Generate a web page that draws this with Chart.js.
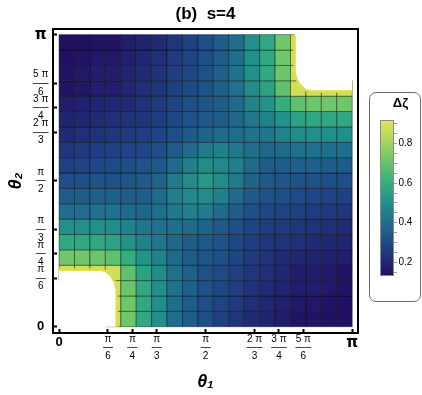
<!DOCTYPE html>
<html>
<head>
<meta charset="utf-8">
<script src="https://cdn.jsdelivr.net/npm/chart.js@4.4.1/dist/chart.umd.min.js"></script>
<style>
  html, body { margin: 0; padding: 0; background: #fff; }
  #wrap { position: relative; width: 422px; height: 395px; }
  #main { position: absolute; left: 0; top: 0; }
  #legendBox { position: absolute; left: 369px; top: 92px; width: 52px; height: 210px;
               box-sizing: border-box; border: 1.5px solid #6b6b6b; border-radius: 7px; }
  #bar { position: absolute; left: 369px; top: 92px; }
</style>
</head>
<body>
<div id="wrap">
  <canvas id="main" width="422" height="395"></canvas>
  <div id="legendBox"></div>
  <canvas id="bar" width="52" height="210"></canvas>
</div>
<script>
// Δζ on a 19 x 19 mesh: one row per θ2 cell (bottom row first), one value per θ1 cell
const cellCount = 19;
const dzRows = [
  [null,null,null,0.88,0.72,0.58,0.50,0.40,0.35,0.31,0.27,0.24,0.21,0.19,0.17,0.15,0.15,0.14,0.14],
  [null,null,null,0.88,0.72,0.58,0.50,0.40,0.35,0.31,0.28,0.25,0.22,0.20,0.18,0.16,0.16,0.15,0.14],
  [null,null,null,0.88,0.71,0.58,0.50,0.41,0.36,0.32,0.29,0.26,0.23,0.21,0.19,0.17,0.17,0.16,0.15],
  [0.88,0.88,0.88,0.88,0.69,0.56,0.49,0.41,0.36,0.32,0.30,0.27,0.24,0.22,0.20,0.17,0.17,0.16,0.15],
  [0.72,0.72,0.71,0.69,0.60,0.51,0.46,0.39,0.35,0.33,0.31,0.28,0.25,0.23,0.21,0.20,0.19,0.18,0.17],
  [0.58,0.58,0.58,0.56,0.51,0.46,0.42,0.38,0.35,0.34,0.32,0.29,0.26,0.24,0.23,0.22,0.21,0.20,0.19],
  [0.50,0.50,0.50,0.49,0.46,0.42,0.41,0.40,0.39,0.37,0.34,0.31,0.28,0.26,0.25,0.24,0.23,0.22,0.21],
  [0.40,0.40,0.41,0.41,0.39,0.38,0.40,0.43,0.45,0.44,0.39,0.35,0.31,0.29,0.28,0.27,0.26,0.25,0.24],
  [0.35,0.35,0.36,0.36,0.35,0.35,0.39,0.45,0.48,0.49,0.45,0.39,0.34,0.32,0.31,0.30,0.29,0.28,0.27],
  [0.31,0.31,0.32,0.32,0.33,0.34,0.37,0.44,0.49,0.53,0.49,0.44,0.37,0.34,0.33,0.32,0.32,0.31,0.31],
  [0.27,0.28,0.29,0.30,0.31,0.32,0.34,0.39,0.45,0.49,0.48,0.45,0.39,0.35,0.35,0.36,0.36,0.35,0.35],
  [0.24,0.25,0.26,0.27,0.28,0.29,0.31,0.35,0.39,0.44,0.45,0.43,0.40,0.38,0.39,0.41,0.41,0.40,0.40],
  [0.21,0.22,0.23,0.24,0.25,0.26,0.28,0.31,0.34,0.37,0.39,0.40,0.41,0.42,0.46,0.49,0.50,0.50,0.50],
  [0.19,0.20,0.21,0.22,0.23,0.24,0.26,0.29,0.32,0.34,0.35,0.38,0.42,0.46,0.51,0.56,0.58,0.58,0.58],
  [0.17,0.18,0.19,0.20,0.21,0.23,0.25,0.28,0.31,0.33,0.35,0.39,0.46,0.51,0.60,0.69,0.71,0.72,0.72],
  [0.15,0.16,0.17,0.17,0.20,0.22,0.24,0.27,0.30,0.32,0.36,0.41,0.49,0.56,0.69,0.88,0.88,0.88,0.88],
  [0.15,0.16,0.17,0.17,0.19,0.21,0.23,0.26,0.29,0.32,0.36,0.41,0.50,0.58,0.71,0.88,null,null,null],
  [0.14,0.15,0.16,0.16,0.18,0.20,0.22,0.25,0.28,0.31,0.35,0.40,0.50,0.58,0.72,0.88,null,null,null],
  [0.14,0.14,0.15,0.15,0.17,0.19,0.21,0.24,0.27,0.31,0.35,0.40,0.50,0.58,0.72,0.88,null,null,null]
];

// edges of the two regions where Δζ is not defined (radians)
const lowCornerX  = [0, 0.45, 0.505, 0.56, 0.60, 0.618, 0.618];
const lowCornerY  = [0.612, 0.612, 0.595, 0.545, 0.475, 0.40, 0];
const highCornerX = [2.524, 2.524, 2.542, 2.582, 2.637, 2.692, 3.1416];
const highCornerY = [3.1416, 2.742, 2.667, 2.597, 2.547, 2.53, 2.53];

// axis ticks, as fractions of π
const tickFractions = [0, 1/6, 1/4, 1/3, 1/2, 2/3, 3/4, 5/6, 1];
const tickLabels = ['0', ['π','—','6'], ['π','—','4'], ['π','—','3'], ['π','—','2'],
                    ['2 π','—–','3'], ['3 π','—–','4'], ['5 π','—–','6'], 'π'];

// colour bar
const cbMin = 0.13, cbMax = 0.92;
const cbTickValues = [0.15,0.2,0.25,0.3,0.35,0.4,0.45,0.5,0.55,0.6,0.65,0.7,0.75,0.8,0.85,0.9];
const cbTickLabels = ['','0.2','','','','0.4','','','','0.6','','','','0.8','',''];

const cmapStops = [
  [0.13, [34, 12, 96]],
  [0.20, [33, 40, 115]],
  [0.30, [30, 75, 135]],
  [0.40, [32, 110, 141]],
  [0.50, [35, 143, 139]],
  [0.60, [52, 174, 126]],
  [0.70, [100, 195, 108]],
  [0.80, [160, 213, 93]],
  [0.92, [232, 228, 88]]
];

function dzColor(v) {
  if (v <= cmapStops[0][0]) return `rgb(${cmapStops[0][1]})`;
  for (let k = 1; k < cmapStops.length; k++) {
    const [v1, c1] = cmapStops[k];
    if (v <= v1) {
      const [v0, c0] = cmapStops[k - 1];
      const t = (v - v0) / (v1 - v0);
      const c = c0.map((a, n) => Math.round(a + (c1[n] - a) * t));
      return `rgb(${c})`;
    }
  }
  return `rgb(${cmapStops[cmapStops.length - 1][1]})`;
}

Chart.defaults.font.family = "'Liberation Sans', Arial, sans-serif";
Chart.defaults.color = '#000';

const cellStep = Math.PI / cellCount;
const cellPoints = [];
dzRows.forEach((row, j) => {
  row.forEach((v, i) => {
    if (v !== null) cellPoints.push({ x: (i + 0.5) * cellStep, y: (j + 0.5) * cellStep, v: v });
  });
});

function cellPx(chart) {
  const xs = chart.scales.x;
  return Math.abs(xs.getPixelForValue(cellStep) - xs.getPixelForValue(0));
}

function tickFont(ctx) {
  const last = tickFractions.length - 1;
  if (ctx.index === 0) return { size: 13, weight: 'bold', lineHeight: 1.2 };
  if (ctx.index === last) return { family: "'DejaVu Sans'", size: 15, weight: 'bold', lineHeight: 1.2 };
  return { size: 10, lineHeight: 0.86 };
}

// black frame round the plot
const frame = {
  id: 'frame',
  afterDatasetsDraw(chart) {
    const { ctx, chartArea: a } = chart;
    ctx.save();
    ctx.strokeStyle = '#000';
    ctx.lineWidth = 2;
    ctx.strokeRect(a.left, a.top, a.right - a.left, a.bottom - a.top);
    ctx.restore();
  }
};

new Chart(document.getElementById('main'), {
  type: 'scatter',
  data: {
    datasets: [
      {
        type: 'line',
        data: lowCornerX.map((x, k) => ({ x: x, y: lowCornerY[k] })),
        order: 0,
        fill: 'origin',
        backgroundColor: '#fff',
        borderColor: '#dcdf4c',
        borderWidth: 2.5,
        pointRadius: 0,
        tension: 0
      },
      {
        type: 'line',
        data: highCornerX.map((x, k) => ({ x: x, y: highCornerY[k] })),
        order: 0,
        fill: 'end',
        backgroundColor: '#fff',
        borderColor: '#dcdf4c',
        borderWidth: 2.5,
        pointRadius: 0,
        tension: 0
      },
      {
        data: cellPoints,
        order: 1,
        pointStyle: 'rect',
        pointRadius: ctx => cellPx(ctx.chart) / Math.SQRT2,
        pointBackgroundColor: ctx => ctx.raw ? dzColor(ctx.raw.v) : '#000',
        pointBorderColor: 'rgba(0,0,0,0.42)',
        pointBorderWidth: 1
      }
    ]
  },
  options: {
    responsive: false,
    animation: false,
    events: [],
    layout: { padding: { left: 4, right: 64, top: 0, bottom: 0 } },
    plugins: {
      legend: { display: false },
      tooltip: { enabled: false },
      title: {
        display: true,
        text: '(b)  s=4',
        fullSize: false,
        font: { size: 17, weight: 'bold', lineHeight: 1.2 },
        padding: { top: 4.6, bottom: 4 }
      }
    },
    scales: {
      x: {
        type: 'linear',
        min: -0.065,
        max: Math.PI + 0.062,
        afterBuildTicks: axis => { axis.ticks = tickFractions.map(f => ({ value: f * Math.PI })); },
        afterFit: axis => { axis.height = 62; },
        border: { display: false },
        grid: { drawOnChartArea: false, drawTicks: true, tickLength: -4, tickColor: '#000', tickWidth: 2 },
        ticks: {
          autoSkip: false, maxRotation: 0, minRotation: 0, padding: 5.5,
          callback: (v, i) => tickLabels[i],
          font: tickFont
        },
        title: {
          display: true,
          text: 'θ₁',
          font: { size: 18, weight: 'bold', style: 'italic', lineHeight: 1.2 },
          padding: { top: 0, bottom: 2 }
        }
      },
      y: {
        type: 'linear',
        min: -0.068,
        max: Math.PI + 0.061,
        afterBuildTicks: axis => { axis.ticks = tickFractions.map(f => ({ value: f * Math.PI })); },
        afterFit: axis => { axis.width = 49; },
        border: { display: false },
        grid: { drawOnChartArea: false, drawTicks: true, tickLength: -4, tickColor: '#000', tickWidth: 2 },
        ticks: {
          autoSkip: false, crossAlign: 'center', padding: 8.5,
          callback: (v, i) => tickLabels[i],
          font: tickFont
        },
        title: {
          display: true,
          text: 'θ₂',
          font: { size: 18, weight: 'bold', style: 'italic', lineHeight: 1.2 },
          padding: { top: 1, bottom: 0 }
        }
      }
    }
  },
  plugins: [frame]
});

// colour bar legend
new Chart(document.getElementById('bar'), {
  type: 'bar',
  data: {
    labels: [''],
    datasets: [{
      data: [[cbMin, cbMax]],
      backgroundColor: ctx => {
        const chart = ctx.chart;
        if (!chart.chartArea) return 'transparent';
        const ys = chart.scales.y;
        const g = chart.ctx.createLinearGradient(0, ys.getPixelForValue(cbMin), 0, ys.getPixelForValue(cbMax));
        cmapStops.forEach(([v, c]) => g.addColorStop((v - cbMin) / (cbMax - cbMin), `rgb(${c})`));
        return g;
      },
      borderColor: '#8c8c8c',
      borderWidth: 1,
      borderSkipped: false,
      inflateAmount: 0,
      barPercentage: 1,
      categoryPercentage: 1
    }]
  },
  options: {
    responsive: false,
    animation: false,
    events: [],
    layout: { padding: { left: 11, right: 0, top: 0, bottom: 26 } },
    plugins: {
      legend: { display: false },
      tooltip: { enabled: false },
      title: {
        display: true,
        text: 'Δζ',
        font: { size: 13, weight: 'bold', lineHeight: 1.2 },
        padding: { top: 4, bottom: 8.4 }
      }
    },
    scales: {
      x: { display: false },
      y: {
        position: 'right',
        min: cbMin,
        max: cbMax,
        afterBuildTicks: axis => { axis.ticks = cbTickValues.map(v => ({ value: v })); },
        afterFit: axis => { axis.width = 27; },
        border: { display: false },
        grid: { drawOnChartArea: false, tickLength: 3, tickColor: '#9a9a9a', tickWidth: 1 },
        ticks: {
          autoSkip: false, padding: 1.5,
          font: { size: 10 },
          callback: (v, i) => cbTickLabels[i]
        }
      }
    }
  }
});
</script>
</body>
</html>
